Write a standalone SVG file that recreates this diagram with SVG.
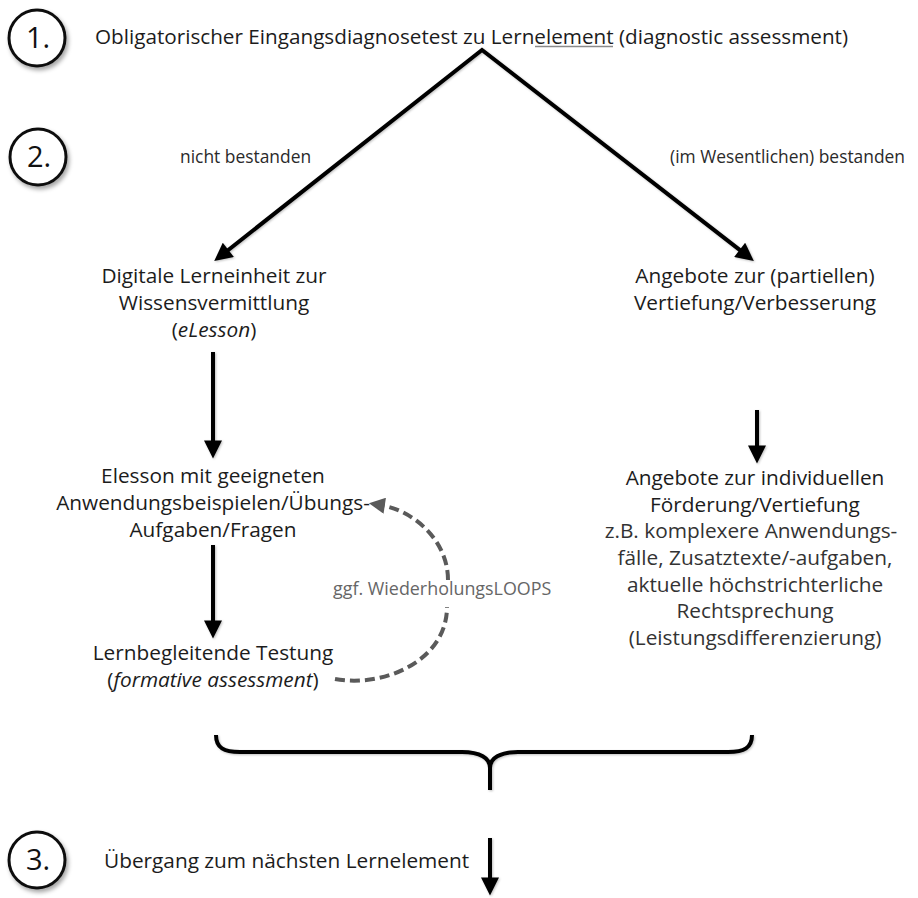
<svg xmlns="http://www.w3.org/2000/svg" width="918" height="898" viewBox="0 0 918 898">
<style>
text{font-family:"Open Sans","Liberation Sans",sans-serif;fill:#1c1c1c}
.t{font-size:20.8px}
.c{text-anchor:middle}
.s{font-size:17.4px;fill:#2a2a2a}
.g{fill:#333}
.num{font-size:29px;text-anchor:middle;fill:#111}
.ring{fill:#fff;stroke:#111;stroke-width:3}
.ar{fill:none;stroke:#000;stroke-width:4}
.dash{fill:none;stroke:#5a5a5a;stroke-width:4;stroke-dasharray:10 5}
</style>
<defs>
<filter id="sh" x="-30%" y="-30%" width="160%" height="160%">
<feDropShadow dx="2" dy="3" stdDeviation="2" flood-color="#000" flood-opacity="0.35"/>
</filter>
<filter id="ls" filterUnits="userSpaceOnUse" x="0" y="0" width="918" height="898">
<feDropShadow dx="1" dy="1" stdDeviation="1" flood-color="#000" flood-opacity="0.25"/>
</filter>
<marker id="ah" viewBox="0 0 10 10" refX="2.5" refY="5" markerWidth="20" markerHeight="18" markerUnits="userSpaceOnUse" orient="auto-start-reverse">
<path d="M0,0 L10,5 L0,10 z" fill="#000"/>
</marker>
<marker id="ahg" viewBox="0 0 10 10" refX="3" refY="5" markerWidth="18" markerHeight="16" markerUnits="userSpaceOnUse" orient="auto">
<path d="M0,0 L10,5 L0,10 z" fill="#5a5a5a"/>
</marker>
</defs>

<g id="step1">
<circle class="ring" cx="37" cy="38" r="28" filter="url(#sh)"/>
<text class="num" x="38" y="48">1.</text>
</g>
<g id="step2">
<circle class="ring" cx="38" cy="157" r="28" filter="url(#sh)"/>
<text class="num" x="39" y="167">2.</text>
</g>
<g id="step3">
<circle class="ring" cx="37" cy="860" r="28" filter="url(#sh)"/>
<text class="num" x="38" y="870">3.</text>
</g>

<g id="title">
<text class="t" x="95" y="44" style="font-size:20.7px">Obligatorischer Eingangsdiagnosetest zu Lernelement (diagnostic assessment)</text>
<line x1="535" y1="46.5" x2="613" y2="46.5" stroke="#8a8a8a" stroke-width="1.3"/>
</g>

<g id="label-fail"><text class="s" x="180" y="163">nicht bestanden</text></g>
<g id="label-pass"><text class="s" x="670" y="163">(im Wesentlichen) bestanden</text></g>

<g id="elesson">
<text class="t c" x="214" y="283">Digitale Lerneinheit zur</text>
<text class="t c" x="214" y="310">Wissensvermittlung</text>
<text class="t c" x="214" y="337">(<tspan font-style="italic">eLesson</tspan>)</text>
</g>

<g id="vertiefung">
<text class="t c" x="755" y="283">Angebote zur (partiellen)</text>
<text class="t c" x="755" y="310">Vertiefung/Verbesserung</text>
</g>

<g id="uebungen">
<text class="t c" x="213" y="483">Elesson mit geeigneten</text>
<text class="t c" x="213" y="510">Anwendungsbeispielen/Übungs-</text>
<text class="t c" x="213" y="537">Aufgaben/Fragen</text>
</g>

<g id="testung">
<text class="t c" x="213" y="660">Lernbegleitende Testung</text>
<text class="t c" x="213" y="687">(<tspan font-style="italic">formative assessment</tspan>)</text>
</g>

<g id="foerderung">
<text class="t c" x="755" y="485">Angebote zur individuellen</text>
<text class="t c" x="755" y="512">Förderung/Vertiefung</text>
<text class="t c g" x="751" y="538">z.B. komplexere Anwendungs-</text>
<text class="t c g" x="755" y="565">fälle, Zusatztexte/-aufgaben,</text>
<text class="t c g" x="755" y="592">aktuelle höchstrichterliche</text>
<text class="t c g" x="755" y="618">Rechtsprechung</text>
<text class="t c g" x="755" y="645">(Leistungsdifferenzierung)</text>
</g>

<g id="uebergang">
<text class="t" x="104" y="868">Übergang zum nächsten Lernelement</text>
</g>

<g id="loop-label">
<text x="333" y="595" style="fill:#666;font-size:17.9px">ggf. WiederholungsLOOPS</text>
</g>

<g id="connectors">
<path class="ar" filter="url(#ls)" d="M224.8,252.7 L482,50 L743.2,252.7" marker-start="url(#ah)" marker-end="url(#ah)" stroke-linejoin="miter"/>
<path class="ar" filter="url(#ls)" d="M213,352 L213,445" marker-end="url(#ah)"/>
<path class="ar" filter="url(#ls)" d="M213,545 L213,625" marker-end="url(#ah)"/>
<path class="ar" filter="url(#ls)" d="M757,410 L757,450" marker-end="url(#ah)"/>
<path class="ar" filter="url(#ls)" d="M490,838 L490,882" marker-end="url(#ah)"/>
<path class="dash" d="M335,679 C385,688 447,660 447,607"/>
<path class="dash" d="M448,580 C448,540 413,510 380,505" marker-end="url(#ahg)"/>
<path class="ar" filter="url(#ls)" d="M216,735 C216,748 224,752 240,752 L462,752 C480,752 490,758 490,768 L490,790 M490,768 C490,758 500,752 518,752 L728,752 C744,752 752,748 752,735"/>
</g>
</svg>
